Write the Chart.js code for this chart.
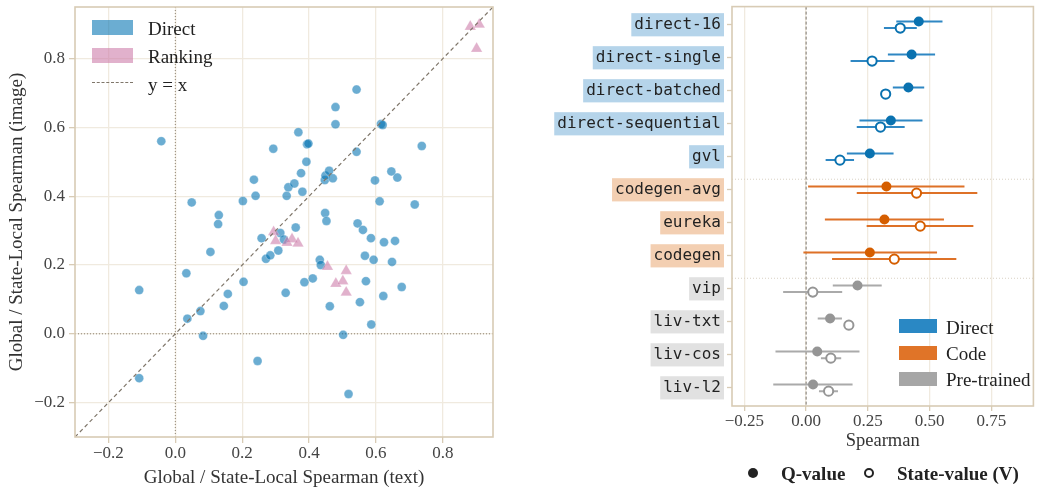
<!DOCTYPE html>
<html>
<head>
<meta charset="utf-8">
<script src="https://cdn.jsdelivr.net/npm/chart.js@4.4.1/dist/chart.umd.min.js"></script>
<style>
  body { margin: 0; background: #fff; width: 1040px; height: 488px; position: relative; overflow: hidden;
         font-family: "Liberation Serif", "DejaVu Serif", serif; }
  canvas { position: absolute; top: 0; }
  #left { left: 0; }
  #right { left: 520px; }
  .lg { position: absolute; font-size: 19px; color: #222; line-height: 1; white-space: nowrap; transform: translateY(-50%); }
  .patch { position: absolute; }
  .dot { position: absolute; width: 10px; height: 10px; border-radius: 50%; box-sizing: border-box; transform: translate(-50%, -50%); }
</style>
</head>
<body>
<canvas id="left" width="520" height="488"></canvas>
<canvas id="right" width="520" height="488"></canvas>

<!-- left legend -->
<div class="patch" style="left:92px;top:20px;width:41px;height:15px;background:rgba(0,114,178,0.58)"></div>
<div class="lg" style="left:148px;top:28px">Direct</div>
<div class="patch" style="left:92px;top:48px;width:41px;height:15px;background:rgba(204,121,167,0.58)"></div>
<div class="lg" style="left:148px;top:56px">Ranking</div>
<div class="patch" style="left:92px;top:82px;width:41px;height:0;border-top:1.2px dashed #7f766a"></div>
<div class="lg" style="left:148px;top:84px">y = x</div>

<!-- right legend -->
<div class="patch" style="left:899px;top:319px;width:38px;height:14px;background:#2a88c4"></div>
<div class="lg" style="left:946px;top:327px">Direct</div>
<div class="patch" style="left:899px;top:346px;width:38px;height:14px;background:#e07428"></div>
<div class="lg" style="left:946px;top:353px">Code</div>
<div class="patch" style="left:899px;top:372px;width:38px;height:14px;background:#a6a6a6"></div>
<div class="lg" style="left:946px;top:379px">Pre-trained</div>

<!-- bottom legend -->
<div class="dot" style="left:753px;top:473px;background:#222"></div>
<div class="lg" style="left:781px;top:473px;font-weight:bold">Q-value</div>
<div class="dot" style="left:869px;top:473px;background:#fff;border:2px solid #222"></div>
<div class="lg" style="left:897px;top:473px;font-weight:bold">State-value (V)</div>

<script>
// ── Left panel: text vs image Spearman ──────────────────────────────────────
const directX = [-0.108, -0.108, -0.042, 0.033, 0.036, 0.075, 0.083, 0.049, 0.105, 0.130,
  0.128, 0.145, 0.157, 0.202, 0.204, 0.235, 0.240, 0.246, 0.258, 0.271,
  0.284, 0.308, 0.314, 0.325, 0.330, 0.333, 0.338, 0.356, 0.360, 0.376,
  0.380, 0.392, 0.386, 0.411, 0.432, 0.435, 0.447, 0.449, 0.460, 0.471,
  0.448, 0.452, 0.462, 0.502, 0.518, 0.545, 0.561, 0.567, 0.570, 0.552,
  0.585, 0.593, 0.586, 0.597, 0.611, 0.624, 0.622, 0.646, 0.664, 0.657,
  0.648, 0.677, 0.716, 0.293, 0.368, 0.394, 0.398, 0.479, 0.479, 0.542,
  0.542, 0.615, 0.620, 0.737];
const directY = [0.127, -0.129, 0.560, 0.176, 0.044, 0.066, -0.006, 0.382, 0.238, 0.345,
  0.319, 0.081, 0.116, 0.386, 0.151, 0.448, 0.401, -0.079, 0.278, 0.218,
  0.228, 0.242, 0.293, 0.274, 0.119, 0.401, 0.426, 0.437, 0.309, 0.467,
  0.413, 0.500, 0.150, 0.161, 0.215, 0.200, 0.447, 0.460, 0.474, 0.452,
  0.351, 0.328, 0.080, -0.003, -0.175, 0.321, 0.302, 0.227, 0.153, 0.092,
  0.278, 0.215, 0.027, 0.446, 0.385, 0.266, 0.110, 0.472, 0.454, 0.270,
  0.209, 0.136, 0.376, 0.538, 0.586, 0.551, 0.553, 0.659, 0.609, 0.710,
  0.529, 0.610, 0.607, 0.546];
const rankingX = [0.294, 0.300, 0.334, 0.349, 0.367, 0.455, 0.480, 0.501, 0.511, 0.511, 0.882, 0.909, 0.901];
const rankingY = [0.296, 0.270, 0.265, 0.275, 0.263, 0.195, 0.146, 0.153, 0.183, 0.120, 0.893, 0.899, 0.829];
const scatterTicks = [-0.2, 0, 0.2, 0.4, 0.6, 0.8];
const scatterMin = -0.3, scatterMax = 0.95;

// ── Right panel: Spearman per method ────────────────────────────────────────
const methods = ['direct-16', 'direct-single', 'direct-batched', 'direct-sequential', 'gvl',
  'codegen-avg', 'eureka', 'codegen', 'vip', 'liv-txt', 'liv-cos', 'liv-l2'];
const groups = ['Direct', 'Direct', 'Direct', 'Direct', 'Direct',
  'Code', 'Code', 'Code', 'Pre-trained', 'Pre-trained', 'Pre-trained', 'Pre-trained'];
const qMean = [0.456, 0.427, 0.414, 0.343, 0.258, 0.325, 0.317, 0.258, 0.208, 0.097, 0.045, 0.028];
const qLow  = [0.365, 0.331, 0.351, 0.216, 0.165, 0.008, 0.076, -0.011, 0.108, 0.047, -0.124, -0.133];
const qHigh = [0.552, 0.522, 0.478, 0.471, 0.354, 0.641, 0.558, 0.530, 0.306, 0.145, 0.216, 0.188];
const vMean = [0.381, 0.267, 0.322, 0.301, 0.137, 0.447, 0.462, 0.357, 0.027, 0.173, 0.100, 0.091];
const vLow  = [0.315, 0.180, 0.308, 0.205, 0.079, 0.205, 0.245, 0.105, -0.093, 0.160, 0.060, 0.052];
const vHigh = [0.448, 0.358, 0.336, 0.399, 0.194, 0.693, 0.677, 0.608, 0.146, 0.186, 0.142, 0.129];
const groupSeparators = [4.68, 7.68];
const spearmanTicks = [-0.25, 0, 0.25, 0.5, 0.75];

const dotColor   = { 'Direct': '#0a72b0', 'Code': '#d55e00', 'Pre-trained': '#959595' };
const barColor   = { 'Direct': '#2f87c3', 'Code': '#de7127', 'Pre-trained': '#aaaaaa' };
const labelColor = { 'Direct': '#b5d4ea', 'Code': '#f3cfb2', 'Pre-trained': '#e1e1e1' };

const SERIF = '"Liberation Serif", "DejaVu Serif", serif';
const FRAME = '#d8cbb5';
const GRID  = '#f0eadf';

// plot frame on all four sides
const framePlugin = {
  id: 'frame',
  afterDatasetsDraw(chart) {
    const { ctx, chartArea: a } = chart;
    ctx.save();
    ctx.strokeStyle = FRAME;
    ctx.lineWidth = 1.6;
    ctx.strokeRect(a.left, a.top, a.right - a.left, a.bottom - a.top);
    ctx.restore();
  }
};

const fmt = d => v => (v < 0 ? '\u2212' : '') + Math.abs(v).toFixed(d);
const fixedTicks = vals => scale => { scale.ticks = vals.map(v => ({ value: v })); };
// fixed axis size, no extra label overhang padding
const fitX = h => s => { s.height = h; s.paddingLeft = 0; s.paddingRight = 0; };
const fitY = w => s => { s.width = w; s.paddingTop = 0; s.paddingBottom = 0; };
const guide = (pts, dash, color, width) => ({
  data: pts, showLine: true, pointRadius: 0, borderDash: dash,
  borderColor: color, borderWidth: width, fill: false
});

new Chart(document.getElementById('left'), {
  type: 'scatter',
  data: {
    datasets: [
      guide([{ x: scatterMin, y: scatterMin }, { x: scatterMax, y: scatterMax }], [4, 3], '#7f766a', 1.2),
      {
        data: rankingX.map((x, i) => ({ x, y: rankingY[i] })),
        pointStyle: 'triangle', pointRadius: 6.6,
        backgroundColor: 'rgba(204,121,167,0.58)', borderColor: 'rgba(255,255,255,0.5)', borderWidth: 0.4
      },
      {
        data: directX.map((x, i) => ({ x, y: directY[i] })),
        pointStyle: 'circle', pointRadius: 4.5,
        backgroundColor: 'rgba(0,114,178,0.58)', borderColor: 'rgba(255,255,255,0.6)', borderWidth: 0.5
      },
      guide([{ x: 0, y: scatterMin }, { x: 0, y: scatterMax }], [1, 2], '#8c8272', 1),
      guide([{ x: scatterMin, y: 0 }, { x: scatterMax, y: 0 }], [1, 2], '#8c8272', 1),
    ]
  },
  options: {
    responsive: false, animation: false,
    layout: { padding: { left: 0, right: 27, top: 3, bottom: 0 } },
    plugins: { legend: { display: false }, tooltip: { enabled: false } },
    scales: {
      x: {
        min: scatterMin, max: scatterMax,
        afterBuildTicks: fixedTicks(scatterTicks),
        afterFit: fitX(51),
        border: { display: false },
        grid: { color: GRID, lineWidth: 1.3, tickLength: 6, tickColor: FRAME, tickWidth: 1.3 },
        ticks: { callback: fmt(1), color: '#444', font: { family: SERIF, size: 17 }, padding: 0, maxRotation: 0, autoSkip: false },
        title: { display: true, text: 'Global / State-Local Spearman (text)', color: '#333',
                 font: { family: SERIF, size: 19, lineHeight: 1 }, padding: { bottom: 0 } }
      },
      y: {
        min: scatterMin, max: scatterMax,
        afterBuildTicks: fixedTicks(scatterTicks),
        afterFit: fitY(75),
        border: { display: false },
        grid: { color: GRID, lineWidth: 1.3, tickLength: 6, tickColor: FRAME, tickWidth: 1.3 },
        ticks: { callback: fmt(1), color: '#444', font: { family: SERIF, size: 17 }, padding: 4, autoSkip: false },
        title: { display: true, text: 'Global / State-Local Spearman (image)', color: '#333',
                 font: { family: SERIF, size: 19, lineHeight: 1 }, padding: { top: 8 } }
      }
    }
  },
  plugins: [framePlugin]
});

// ── Right chart datasets ────────────────────────────────────────────────────
const rightSets = [];
groupSeparators.forEach(y => rightSets.push(guide([{ x: -0.3, y }, { x: 0.92, y }], [1, 2], '#d9d1c4', 1)));
rightSets.push(guide([{ x: 0, y: -0.55 }, { x: 0, y: 11.55 }], [3, 2], '#7a746c', 1));
methods.forEach((m, i) => {
  const c = barColor[groups[i]];
  rightSets.push(guide([{ x: qLow[i], y: i - 0.1 }, { x: qHigh[i], y: i - 0.1 }], [], c, 2));
  rightSets.push(guide([{ x: vLow[i], y: i + 0.1 }, { x: vHigh[i], y: i + 0.1 }], [], c, 2));
});
rightSets.push({
  data: qMean.map((x, i) => ({ x, y: i - 0.1 })),
  pointRadius: 5, pointStyle: 'circle', borderWidth: 0,
  backgroundColor: qMean.map((_, i) => dotColor[groups[i]])
});
rightSets.push({
  data: vMean.map((x, i) => ({ x, y: i + 0.1 })),
  pointRadius: 4.6, pointStyle: 'circle', borderWidth: 2, backgroundColor: '#fff',
  borderColor: vMean.map((_, i) => dotColor[groups[i]])
});
// draw later datasets on top
rightSets.forEach((d, i) => { d.order = rightSets.length - i; });

new Chart(document.getElementById('right'), {
  type: 'scatter',
  data: { datasets: rightSets },
  options: {
    responsive: false, animation: false,
    layout: { padding: { left: 0, right: 2, top: 2, bottom: 0 } },
    plugins: { legend: { display: false }, tooltip: { enabled: false } },
    scales: {
      x: {
        min: -0.3, max: 0.92,
        afterBuildTicks: fixedTicks(spearmanTicks),
        afterFit: fitX(82),
        border: { display: false },
        grid: { color: GRID, lineWidth: 1.3, tickLength: 5, tickColor: FRAME, tickWidth: 1.3 },
        ticks: { callback: fmt(2), color: '#444', font: { family: SERIF, size: 17 }, padding: 0, maxRotation: 0, autoSkip: false },
        title: { display: true, text: 'Spearman', color: '#333',
                 font: { family: SERIF, size: 18.5, lineHeight: 1 }, padding: { bottom: 38 } }
      },
      y: {
        min: -0.55, max: 11.55, reverse: true,
        afterBuildTicks: fixedTicks(methods.map((_, i) => i)),
        afterFit: fitY(212),
        border: { display: false },
        grid: { drawOnChartArea: false, tickLength: 5, tickColor: FRAME, tickWidth: 1.3 },
        ticks: {
          callback: v => methods[v], color: '#222', autoSkip: false,
          font: { family: '"DejaVu Sans Mono", monospace', size: 16 }, padding: 6,
          showLabelBackdrop: true,
          backdropColor: ctx => labelColor[groups[ctx.index]],
          backdropPadding: { left: 3, right: 3, top: 2, bottom: 2 }
        }
      }
    }
  },
  plugins: [framePlugin]
});
</script>
</body>
</html>
